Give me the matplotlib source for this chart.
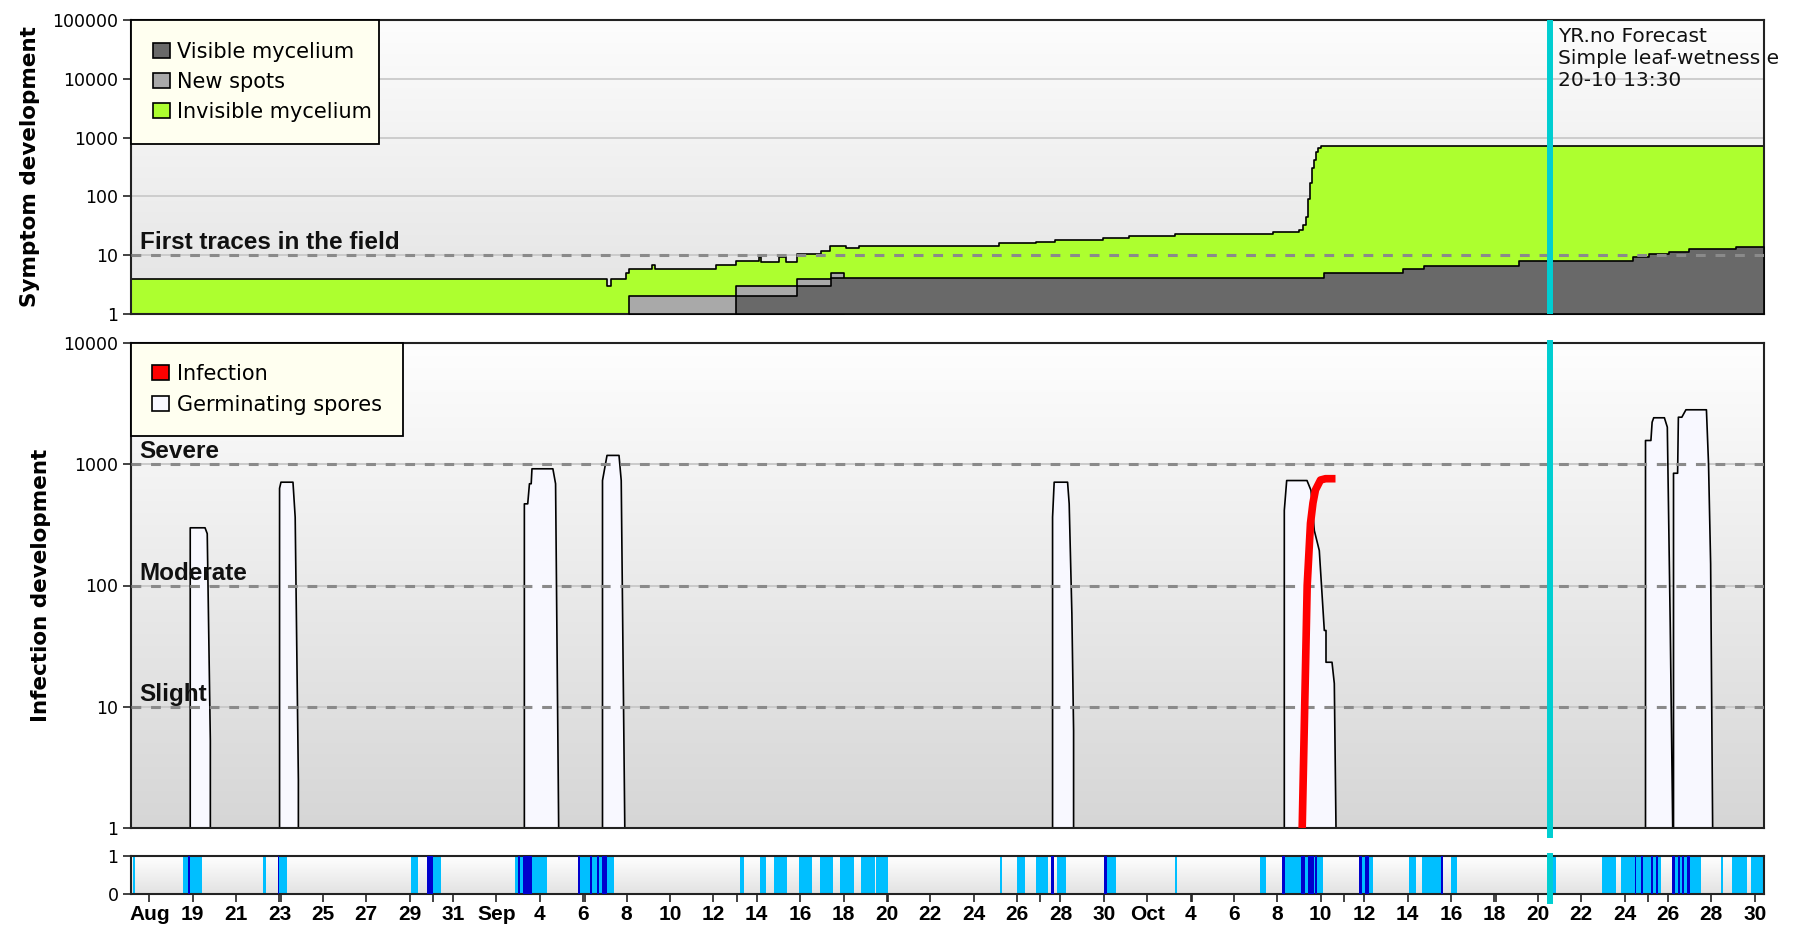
import matplotlib
matplotlib.use("Agg")
import numpy as np
import matplotlib.pyplot as plt
import matplotlib.patches as mpatches
from matplotlib.colors import LinearSegmentedColormap
from matplotlib.ticker import NullLocator, FixedLocator

plt.rcParams['font.family'] = ['DejaVu Sans']

# ---------------- data (x = day number counted from 1 Aug: Sep 1 = 32, Oct 1 = 62) ----------------
X_START, X_END = 16.156, 91.43
FORECAST_DAY = 81.5625          # 20-10 13:30
FORECAST_TEXT = "YR.no Forecast\nSimple leaf-wetness e\n20-10 13:30"

tick_days = list(range(17, 92, 2))
tick_labels = ['Aug', '19', '21', '23', '25', '27', '29', '31',
               'Sep', '4', '6', '8', '10', '12', '14', '16', '18', '20', '22', '24', '26', '28', '30',
               'Oct', '4', '6', '8', '10', '12', '14', '16', '18', '20', '22', '24', '26', '28', '30']
week_days = [23.07, 30.07, 37.07, 44.07, 51.07, 58.07, 65.07, 72.07, 79.07, 86.07]

# Symptom development (step series)
invis_t = [16.156, 38.10, 38.30, 38.96, 39.13, 40.16, 40.30, 43.10, 44.06, 45.09, 45.20, 46.02,
           46.33, 46.84, 47.97, 48.39, 49.11, 49.72, 56.16, 57.85, 58.77, 60.94, 62.17, 64.27,
           68.80, 70.00, 70.20, 70.30, 70.40, 70.49, 70.60, 70.70, 70.80, 70.89, 71.00, 71.09, 91.43]
invis_v = [4.0, 3.0, 4.0, 4.9, 5.8, 6.8, 5.8, 6.8, 7.95, 9.2, 7.8, 9.2,
           7.8, 10.5, 11.8, 14.3, 13.2, 14.5, 15.9, 17.0, 18.1, 19.9, 21.2, 22.8,
           24.5, 27, 32, 45, 90, 167, 300, 415, 560, 665, 710, 728, 728]
newspots_t = [39.13, 44.06, 46.84, 48.42, 49.04]
newspots_v = [2.0, 3.0, 3.94, 5.0, 1.0]
visible_t = [44.06, 46.84, 48.42, 71.17, 74.77, 75.78, 80.12, 85.39, 86.15, 87.03, 87.95, 90.12, 91.43]
visible_v = [2.0, 3.0, 4.1, 5.0, 5.75, 6.6, 7.95, 9.4, 10.5, 11.2, 12.6, 14.0, 14.0]

# Infection development
spores_t = [16.156,
            18.863, 18.863, 19.546, 19.647, 19.790, 19.790,
            22.981, 22.981, 23.046, 23.599, 23.701, 23.848, 23.848,
            34.265, 34.265, 34.420, 34.500, 34.580, 34.616, 35.580, 35.704, 35.847,
            37.867, 37.867, 38.075, 38.628, 38.730, 38.895,
            58.613, 58.613, 58.687, 59.305, 59.379, 59.503, 59.582, 59.582,
            69.295, 69.295, 69.405, 70.341, 70.525, 70.678, 70.908, 71.139, 71.217, 71.217,
            71.494, 71.600, 71.678,
            85.945, 85.945, 86.194, 86.250, 86.323, 86.816, 86.950, 87.084, 87.199,
            87.236, 87.236, 87.425, 87.460, 87.620, 87.808, 88.753, 88.850, 88.947, 89.040,
            91.43]
spores_v = [1,
            1, 302, 302, 270, 5.3, 1,
            1, 640, 718, 718, 369, 2.5, 1,
            1, 476, 476, 697, 697, 926, 926, 697, 1,
            1, 741, 1194, 1194, 741, 1,
            1, 369, 718, 718, 476, 59, 6.4, 1,
            1, 420, 741, 741, 615, 287, 196, 43, 43, 23.5,
            23.5, 15.7, 1,
            1, 1585, 1585, 2244, 2440, 2440, 2042, 48.8, 1,
            1, 851, 851, 2467, 2467, 2840, 2840, 1019, 152, 1,
            1]
infection_t = [70.143, 70.258, 70.373, 70.525, 70.640, 70.756, 70.986, 71.217, 71.678]
infection_v = [1, 10, 100, 326, 480, 615, 741, 760, 760]

thresholds = [10, 100, 1000]
threshold_names = ['Slight', 'Moderate', 'Severe']

# Leaf wetness periods (start, end)
wet_light = [(16.262, 16.354), (18.540, 19.416), (22.229, 22.395), (22.921, 23.364),
             (29.054, 29.405), (29.792, 30.452), (33.865, 35.354), (36.756, 38.430),
             (44.208, 44.393), (45.162, 45.439), (45.776, 46.394), (46.929, 47.546),
             (47.897, 48.515), (48.851, 49.465), (49.820, 50.433), (50.512, 51.051),
             (56.198, 56.309), (57.000, 57.350), (57.876, 58.430), (58.830, 59.245),
             (61.026, 61.566), (64.267, 64.359), (68.220, 68.483), (69.222, 71.094),
             (72.753, 73.417), (75.059, 75.400), (75.676, 76.626), (76.981, 77.257),
             (81.718, 81.838), (83.977, 84.590), (84.853, 86.698), (87.205, 88.510),
             (89.431, 89.523), (89.972, 90.632), (90.848, 91.429)]
wet_dark = [(18.798, 18.891), (22.921, 22.981), (29.792, 30.097), (34.003, 34.095),
            (34.247, 34.662), (36.756, 36.862), (37.323, 37.401), (37.632, 37.738),
            (37.890, 38.093), (58.550, 58.721), (61.026, 61.151), (69.222, 69.342),
            (70.065, 70.295), (70.419, 70.677), (70.755, 70.834), (72.753, 72.877),
            (73.030, 73.215), (76.553, 76.627), (85.465, 85.543), (85.742, 85.834),
            (86.204, 86.296), (86.449, 86.541), (87.205, 87.311), (87.463, 87.555),
            (87.665, 87.739), (87.896, 88.016)]

# ---------------- styling ----------------
C_VIS, C_NEW, C_INV = '#696969', '#A9A9A9', '#ADFF2F'
C_SPORE, C_RED = '#F8F8FF', '#FF0000'
C_LIGHT, C_DARK = '#00BFFF', '#0000CD'
C_CYAN = '#00CED1'
LEG_BG = '#FFFFF0'
BOLD_FONT = 'Liberation Sans'

W, H = 1795, 931
fig = plt.figure(figsize=(W / 100, H / 100), dpi=100)
fig.patch.set_facecolor('white')


def rect(x0, y0, x1, y1):
    return [x0 / W, 1 - y1 / H, (x1 - x0) / W, (y1 - y0) / H]


pos_top = rect(131, 20, 1764, 314)
pos_inf = rect(131, 343, 1764, 828)
pos_strip = rect(131, 856, 1764, 894)


def gradient_bg(pos, c_top, c_bot):
    bg = fig.add_axes(pos, zorder=-5)
    cmap = LinearSegmentedColormap.from_list('g', [c_bot, c_top])
    bg.imshow(np.linspace(0, 1, 256).reshape(-1, 1), cmap=cmap, aspect='auto',
              origin='lower', extent=[0, 1, 0, 1])
    bg.set_axis_off()


gradient_bg(pos_top, '#FDFDFD', '#E3E3E3')
gradient_bg(pos_inf, '#FEFEFE', '#D6D6D6')
gradient_bg(pos_strip, '#FFFFFF', '#E2E2E2')

ax_top = fig.add_axes(pos_top)
ax_inf = fig.add_axes(pos_inf)
ax_s = fig.add_axes(pos_strip)

for ax in (ax_top, ax_inf, ax_s):
    ax.patch.set_visible(False)
    ax.set_xlim(X_START, X_END)
    for sp in ax.spines.values():
        sp.set_linewidth(1.5)
        sp.set_color('#222222')

# ---------------- top: symptom development ----------------
ax_top.set_yscale('log')
ax_top.set_ylim(1, 1e5)
for g in [10, 100, 1000, 10000]:
    ax_top.axhline(g, color='#CACACA', lw=1.3, zorder=1)
ax_top.fill_between(invis_t, 1, invis_v, step='post', facecolor=C_INV,
                    edgecolor='black', lw=1.2, zorder=2)
ax_top.fill_between(newspots_t, 1, newspots_v, step='post', facecolor=C_NEW,
                    edgecolor='black', lw=1.2, zorder=3)
ax_top.fill_between(visible_t, 1, visible_v, step='post', facecolor=C_VIS,
                    edgecolor='black', lw=1.2, zorder=4)
ax_top.axhline(10, color='#8A8A8A', lw=2.2, dashes=(3.2, 3.2), zorder=5)
ax_top.annotate('First traces in the field', xy=(0, 10),
                xycoords=('axes fraction', 'data'), xytext=(6.3, 4.5),
                textcoords='offset points', va='baseline', ha='left',
                fontsize=17.5, fontweight='bold', family=BOLD_FONT, color='#111111', zorder=6)
ax_top.axvline(FORECAST_DAY, color=C_CYAN, lw=4.3, zorder=8)
ax_top.annotate(FORECAST_TEXT, xy=(FORECAST_DAY, 1),
                xycoords=('data', 'axes fraction'), xytext=(5.5, -5),
                textcoords='offset points', va='top', ha='left', fontsize=14.5,
                linespacing=1.2, color='#111111', annotation_clip=False, zorder=9)

ax_top.set_yticks([1, 10, 100, 1000, 10000, 100000])
ax_top.set_yticklabels(['1', '10', '100', '1000', '10000', '100000'])
ax_top.yaxis.set_minor_locator(NullLocator())
ax_top.set_xticks([])
ax_top.set_ylabel('Symptom development', fontsize=15.5, fontweight='bold', labelpad=9)

leg_top = ax_top.legend(
    handles=[mpatches.Patch(facecolor=C_VIS, edgecolor='black', lw=1.2, label='Visible mycelium'),
             mpatches.Patch(facecolor=C_NEW, edgecolor='black', lw=1.2, label='New spots'),
             mpatches.Patch(facecolor=C_INV, edgecolor='black', lw=1.2, label='Invisible mycelium')],
    loc='upper left', bbox_to_anchor=(0, 0, 248 / 1633, 1), mode='expand',
    borderaxespad=0, fontsize=15, frameon=True, fancybox=False, framealpha=1,
    facecolor=LEG_BG, edgecolor='black', handlelength=0.8, handleheight=0.75,
    handletextpad=0.35, labelspacing=0.48, borderpad=1.05)
leg_top.get_frame().set_linewidth(1.3)
leg_top.set_zorder(10)

# ---------------- middle: infection development ----------------
ax_inf.set_yscale('log')
ax_inf.set_ylim(1, 1e4)
for th in thresholds:
    ax_inf.axhline(th, color='#C8C8C8', lw=1.3, zorder=1)
ax_inf.fill_between(spores_t, 1, spores_v, facecolor=C_SPORE, edgecolor='black',
                    lw=1.2, zorder=2)
for th, name in zip(thresholds, threshold_names):
    ax_inf.axhline(th, color='#8A8A8A', lw=2.2, dashes=(3.2, 3.2), zorder=4)
    ax_inf.annotate(name, xy=(0, th), xycoords=('axes fraction', 'data'),
                    xytext=(6.3, 4.2), textcoords='offset points', va='baseline',
                    ha='left', fontsize=17.5, fontweight='bold', family=BOLD_FONT,
                    color='#111111', zorder=5)
ax_inf.plot(infection_t, infection_v, color=C_RED, lw=5.5, solid_capstyle='butt', zorder=6)
ax_inf.axvline(FORECAST_DAY, ymin=-0.015, ymax=1, color=C_CYAN, lw=4.3, zorder=8, clip_on=False)

ax_inf.set_yticks([1, 10, 100, 1000, 10000])
ax_inf.set_yticklabels(['1', '10', '100', '1000', '10000'])
ax_inf.yaxis.set_minor_locator(NullLocator())
ax_inf.set_xticks([])
ax_inf.set_ylabel('Infection development', fontsize=15.5, fontweight='bold', labelpad=9)

leg_inf = ax_inf.legend(
    handles=[mpatches.Patch(facecolor=C_RED, edgecolor='black', lw=1.2, label='Infection'),
             mpatches.Patch(facecolor=C_SPORE, edgecolor='black', lw=1.2, label='Germinating spores')],
    loc='upper left', borderaxespad=0, fontsize=15, frameon=True, fancybox=False,
    framealpha=1, facecolor=LEG_BG, edgecolor='black', handlelength=0.8,
    handleheight=0.75, handletextpad=0.4, labelspacing=0.52, borderpad=1.0)
leg_inf.get_frame().set_linewidth(1.3)
leg_inf.set_zorder(10)

# ---------------- bottom: leaf wetness strip ----------------
ax_s.set_ylim(0, 1)
for a, b in wet_light:
    ax_s.axvspan(a, b, color=C_LIGHT, lw=0, zorder=2)
for a, b in wet_dark:
    ax_s.axvspan(a, b, color=C_DARK, lw=0, zorder=3)
ax_s.axvline(FORECAST_DAY, ymin=-0.18, ymax=1, color=C_CYAN, lw=4.3, zorder=8, clip_on=False)
ax_s.set_yticks([0, 1])
ax_s.set_yticklabels(['0', '1'])
ax_s.set_xticks(tick_days)
ax_s.set_xticklabels(tick_labels, fontsize=15, fontweight='bold', family=BOLD_FONT)
ax_s.xaxis.set_minor_locator(FixedLocator(week_days))

for ax in (ax_top, ax_inf, ax_s):
    ax.tick_params(axis='y', which='major', direction='out', length=6, width=1.2,
                   labelsize=12.5, pad=3, color='#222222')
ax_s.tick_params(axis='x', which='major', direction='out', length=6, width=1.2, pad=2,
                 color='#222222')
ax_s.tick_params(axis='x', which='minor', direction='out', length=6, width=1.2,
                 color='#222222')

fig.savefig('out.png', dpi=100, facecolor='white')
